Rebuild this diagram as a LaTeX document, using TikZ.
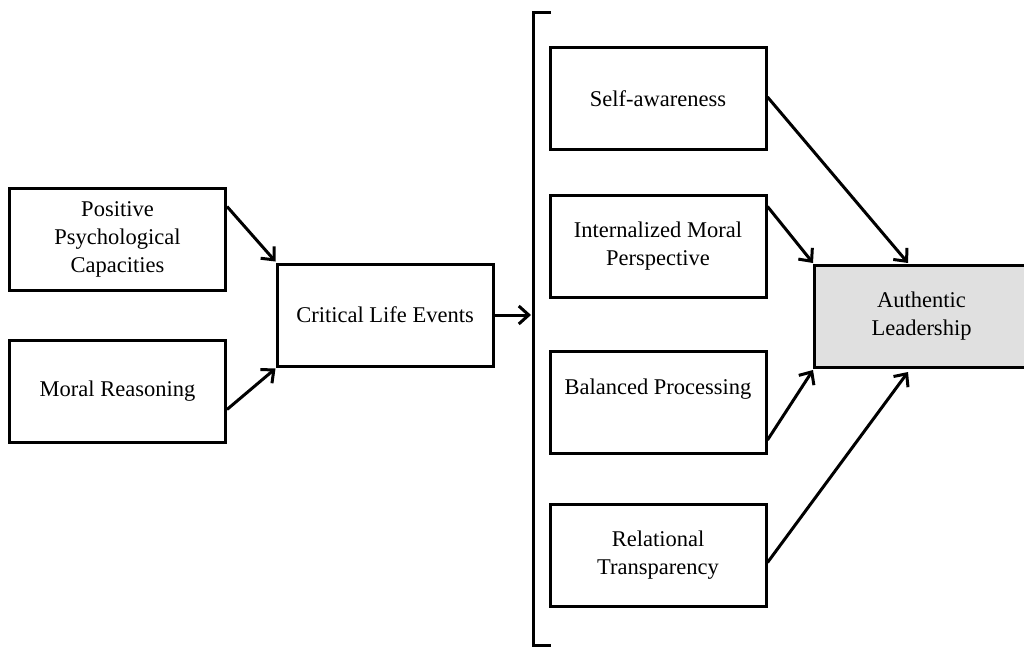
\documentclass[tikz,border=0pt]{standalone}
\usepackage{fontspec}
\setmainfont{Liberation Serif}
\usetikzlibrary{arrows.meta,calc}
\begin{document}
\begin{tikzpicture}[x=1pt,y=-1pt,
  box/.style={draw=black,line width=3pt,minimum width=216pt,minimum height=102pt,
    align=center,inner sep=0pt,font=\fontsize{22.5}{28}\selectfont},
  conn/.style={line width=3pt,-{Straight Barb[length=10pt,width=18pt,line width=3pt]}}]
\useasboundingbox (0,0) rectangle (1024,647);
\clip (0,0) rectangle (1024,647);
\node[box] (pos) at (117.5,239) {Positive\\Psychological\\Capacities};
\node[box] (moral) at (117.5,391) {Moral Reasoning};
\node[box] (crit) at (385,315) {Critical Life Events};
\node[box] (self) at (658,99) {Self-awareness};
\node[box] (intern) at (658,246) {Internalized Moral\\Perspective};
\node[box,text height=43pt,text depth=59pt] (bal) at (658,402.5) {Balanced Processing};
\node[box] (rel) at (658,555.5) {Relational\\Transparency};
\node[box,fill=black!12,minimum width=220pt,anchor=west] (auth) at (813,316.5) {\hspace*{-6pt}Authentic\\\hspace*{-6pt}Leadership};
\coordinate (bt) at (551,13);
\coordinate (bb) at (551,645);
\draw[line width=3pt] (bt) -| (533,645) -- (bb);
\draw[conn] ($(pos.north east)+(0,20)$) -- ($(crit.north west)+(0,-1)$);
\draw[conn] ($(moral.south east)+(0,-34)$) -- ($(crit.south west)+(0,1)$);
\draw[conn] (crit.east) -- (531,315);
\draw[conn] ($(self.east)+(0,-2)$) -- ($(auth.north west)+(95,-1)$);
\draw[conn] ($(intern.north east)+(0,13)$) -- ($(auth.north west)+(0,-1)$);
\draw[conn] ($(bal.south east)+(0,-15)$) -- ($(auth.south west)+(0,1)$);
\draw[conn] ($(rel.east)+(0,7)$) -- ($(auth.south west)+(95,3)$);
\end{tikzpicture}
\end{document}
